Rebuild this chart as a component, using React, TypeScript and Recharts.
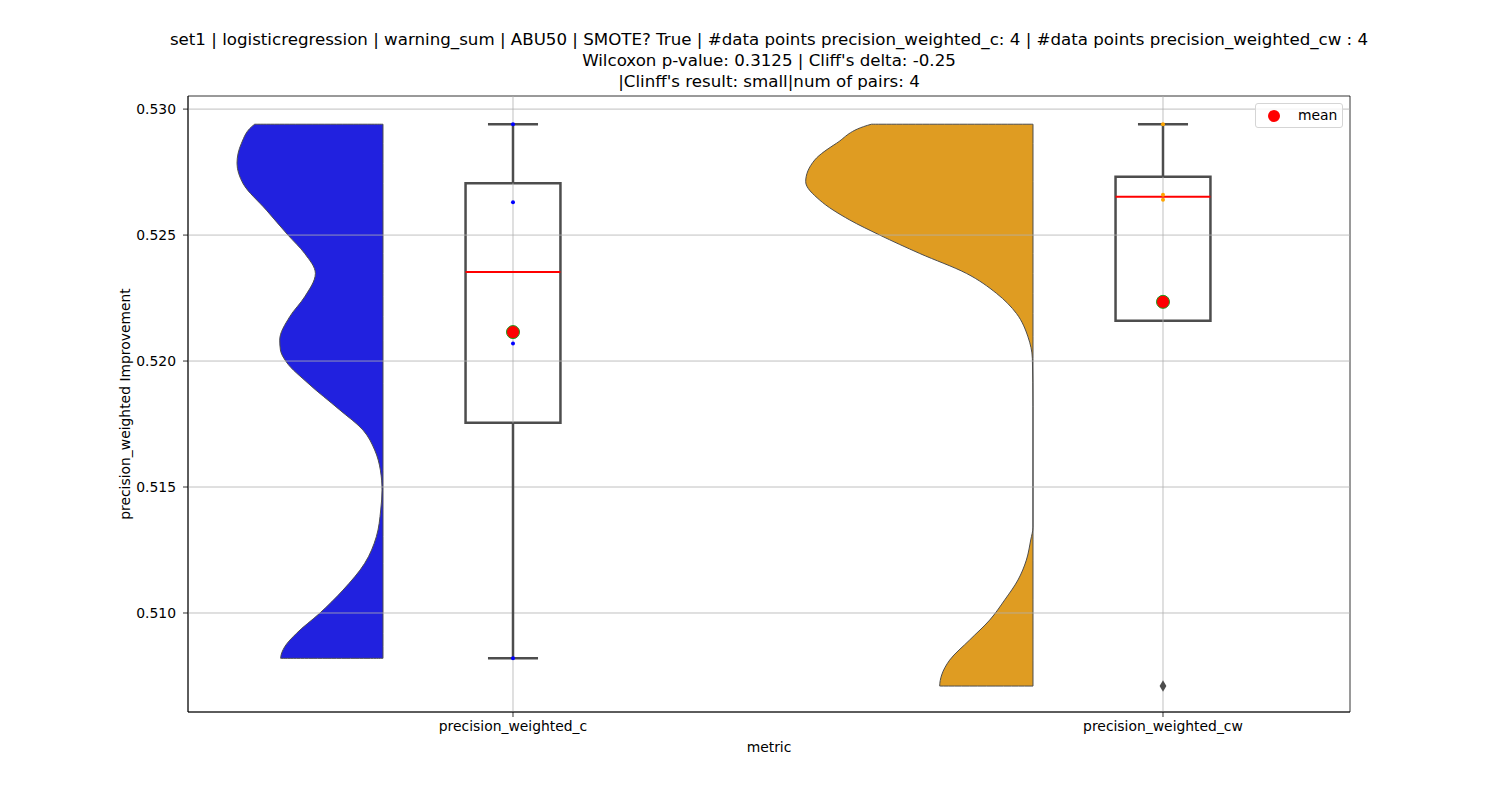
import React from 'react';
import { ComposedChart, Area, Scatter, XAxis, YAxis, ReferenceLine, ReferenceArea, Label } from 'recharts';

const categories = ['precision_weighted_c', 'precision_weighted_cw'];
const categoryPositions = [0, 1];
const yTicks = [0.51, 0.515, 0.52, 0.525, 0.53];
const yDomain = [0.50607, 0.53052];
const xDomain = [-0.5, 1.2877];

const titleLines = [
  'set1 | logisticregression | warning_sum | ABU50 | SMOTE? True | #data points precision_weighted_c: 4 | #data points precision_weighted_cw : 4',
  "Wilcoxon p-value: 0.3125 | Cliff's delta: -0.25",
  "|Clinff's result: small|num of pairs: 4",
];

// raw observations
const pointsC = [0.5294, 0.5263, 0.5207, 0.5082];
const pointsCW = [0.5294, 0.5266, 0.5264, 0.5071];

// box statistics per category
const boxQ1 = [0.51755, 0.5216];
const boxMedian = [0.52353, 0.52652];
const boxQ3 = [0.52706, 0.52731];
const whiskerLow: (number | null)[] = [0.5082, null];
const whiskerHigh = [0.5294, 0.5294];
const means = [0.52115, 0.52235];
const outliersCW = [0.5071];

// half violin density outlines (value, width)
const violinCValues = [0.5294, 0.52864, 0.52785, 0.52705, 0.52599, 0.525, 0.52427, 0.52348, 0.52255, 0.52176, 0.52083, 0.52044, 0.51996, 0.51912, 0.51806, 0.51726, 0.51647, 0.51567, 0.51488, 0.51409, 0.51303, 0.51197, 0.51091, 0.50999, 0.50919, 0.50866, 0.5082];
const violinCWidths = [0.1974, 0.2178, 0.2246, 0.2154, 0.1794, 0.1462, 0.1205, 0.104, 0.1205, 0.1435, 0.1589, 0.1578, 0.1486, 0.1154, 0.0666, 0.0308, 0.0128, 0.004, 0.0015, 0.0035, 0.0102, 0.0282, 0.0615, 0.0974, 0.1332, 0.1512, 0.1574];
const violinCWValues = [0.5294, 0.52864, 0.52798, 0.52712, 0.52639, 0.5256, 0.525, 0.52427, 0.52348, 0.52269, 0.52189, 0.52096, 0.52011, 0.51821, 0.51341, 0.5129, 0.5121, 0.51131, 0.51052, 0.50972, 0.50893, 0.50813, 0.50754, 0.5071];
const violinCWWidths = [0.2486, 0.3025, 0.3358, 0.3497, 0.3282, 0.282, 0.2358, 0.1743, 0.1025, 0.0563, 0.0255, 0.0077, 0.001, 0, 0, 0.0035, 0.0102, 0.0231, 0.0435, 0.0666, 0.0974, 0.1282, 0.1405, 0.1435];
const violinEdge = [-0.2, 0.8];

const BOX_HALF = 0.073;
const CAP_HALF = 0.0385;
const BOX_COLOR = '#4d4d4d';

function violinRows(values: number[], widths: number[], base: number) {
  const rows: { v: number; r: [number, number] }[] = [{ v: values[0], r: [base, base] }];
  values.forEach((v, i) => rows.push({ v, r: [base, base - widths[i]] }));
  rows.push({ v: values[values.length - 1], r: [base, base] });
  return rows;
}

const rowsC = violinRows(violinCValues, violinCWidths, violinEdge[0]);
const rowsCW = violinRows(violinCWValues, violinCWWidths, violinEdge[1]);
const stripC = pointsC.map((v) => ({ x: categoryPositions[0], v }));
const stripCW = pointsCW.map((v) => ({ x: categoryPositions[1], v }));
const meanRows = means.map((v, i) => ({ x: categoryPositions[i], v }));
const outlierRows = outliersCW.map((v) => ({ x: categoryPositions[1], v }));

const font = 'DejaVu Sans, sans-serif';

const Dot = (r: number, fill: string, stroke?: string) => (p: any) =>
  <circle cx={p.cx} cy={p.cy} r={r} fill={fill} stroke={stroke || 'none'} strokeWidth={stroke ? 1 : 0} />;

const Diamond = (p: any) => (
  <polygon
    points={`${p.cx},${p.cy - 5.8} ${p.cx + 3.4},${p.cy} ${p.cx},${p.cy + 5.8} ${p.cx - 3.4},${p.cy}`}
    fill={BOX_COLOR}
  />
);

export default function App() {
  return (
    <div style={{ position: 'absolute', left: 0, top: 0, width: 1500, height: 800, fontFamily: font, background: '#fff' }}>
      <div style={{ position: 'absolute', left: 0, top: 29, width: 1538, textAlign: 'center', fontSize: 16.67, lineHeight: '21px', color: '#000' }}>
        {titleLines.map((t, i) => (
          <div key={i} style={{ whiteSpace: 'nowrap' }}>{t}</div>
        ))}
      </div>
      <ComposedChart width={1500} height={800} layout="vertical" margin={{ top: 96, right: 150, bottom: 18, left: 62 }}>
        <XAxis
          type="number"
          dataKey="x"
          domain={xDomain}
          allowDataOverflow
          ticks={categoryPositions}
          tickFormatter={(i: number) => categories[i] ?? ''}
          tick={{ fill: '#000', fontSize: 13.9 }}
          tickLine={{ stroke: '#000', strokeWidth: 0.8 }}
          axisLine={{ stroke: '#000', strokeWidth: 0.8 }}
          tickSize={5}
          tickMargin={4}
          height={70}
        >
          <Label value="metric" position="center" fill="#000" fontSize={13.9} />
        </XAxis>
        <YAxis
          type="number"
          dataKey="v"
          domain={yDomain}
          allowDataOverflow
          reversed
          ticks={yTicks}
          tickFormatter={(t: number) => t.toFixed(3)}
          tick={{ fill: '#000', fontSize: 13.9 }}
          tickLine={{ stroke: '#000', strokeWidth: 0.8 }}
          axisLine={{ stroke: '#000', strokeWidth: 0.8 }}
          tickSize={5}
          tickMargin={7}
          width={126}
        >
          <Label value="precision_weighted Improvement" position="center" angle={-90} fill="#000" fontSize={13.9} />
        </YAxis>

        <Area data={rowsC} dataKey="r" type="monotone" fill="#2121df" fillOpacity={1} stroke={BOX_COLOR} strokeWidth={1} dot={false} activeDot={false} isAnimationActive={false} />
        <Area data={rowsCW} dataKey="r" type="monotone" fill="#df9c22" fillOpacity={1} stroke={BOX_COLOR} strokeWidth={1} dot={false} activeDot={false} isAnimationActive={false} />

        {categoryPositions.map((c, i) => (
          <ReferenceArea key={`bf${i}`} x1={c - BOX_HALF} x2={c + BOX_HALF} y1={boxQ1[i]} y2={boxQ3[i]} fill="#fff" fillOpacity={1} stroke="none" />
        ))}

        {yTicks.map((t) => (
          <ReferenceLine key={`gy${t}`} y={t} stroke="#b0b0b0" strokeWidth={0.8} />
        ))}
        {categoryPositions.map((c) => (
          <ReferenceLine key={`gx${c}`} x={c} stroke="#b0b0b0" strokeWidth={0.8} />
        ))}

        <Scatter data={stripC} fill="#0000ff" shape={Dot(2, '#0000ff')} isAnimationActive={false} />
        <Scatter data={stripCW} fill="#ffa500" shape={Dot(2, '#ffa500')} isAnimationActive={false} />

        {categoryPositions.map((c, i) => (
          <ReferenceLine key={`wh${i}`} segment={[{ x: c, y: boxQ3[i] }, { x: c, y: whiskerHigh[i] }]} stroke={BOX_COLOR} strokeWidth={2.5} />
        ))}
        {categoryPositions.map((c, i) => (
          <ReferenceLine key={`ch${i}`} segment={[{ x: c - CAP_HALF, y: whiskerHigh[i] }, { x: c + CAP_HALF, y: whiskerHigh[i] }]} stroke={BOX_COLOR} strokeWidth={2.5} />
        ))}
        {categoryPositions.map((c, i) =>
          whiskerLow[i] == null ? null : (
            <ReferenceLine key={`wl${i}`} segment={[{ x: c, y: boxQ1[i] }, { x: c, y: whiskerLow[i] as number }]} stroke={BOX_COLOR} strokeWidth={2.5} />
          )
        )}
        {categoryPositions.map((c, i) =>
          whiskerLow[i] == null ? null : (
            <ReferenceLine key={`cl${i}`} segment={[{ x: c - CAP_HALF, y: whiskerLow[i] as number }, { x: c + CAP_HALF, y: whiskerLow[i] as number }]} stroke={BOX_COLOR} strokeWidth={2.5} />
          )
        )}
        {categoryPositions.map((c, i) => (
          <ReferenceArea key={`bo${i}`} x1={c - BOX_HALF} x2={c + BOX_HALF} y1={boxQ1[i]} y2={boxQ3[i]} fill="none" fillOpacity={0} stroke={BOX_COLOR} strokeWidth={2.5} />
        ))}
        {categoryPositions.map((c, i) => (
          <ReferenceLine key={`md${i}`} segment={[{ x: c - BOX_HALF, y: boxMedian[i] }, { x: c + BOX_HALF, y: boxMedian[i] }]} stroke="#ff0000" strokeWidth={2} />
        ))}

        <Scatter data={outlierRows} fill={BOX_COLOR} shape={Diamond} isAnimationActive={false} />
        <Scatter data={meanRows} fill="#ff0000" shape={Dot(6.5, '#ff0000', '#1f9a1f')} isAnimationActive={false} />

        <ReferenceArea x1={xDomain[0]} x2={xDomain[1]} y1={yDomain[0]} y2={yDomain[1]} fill="none" fillOpacity={0} stroke="#000" strokeWidth={0.8} ifOverflow="visible" />
      </ComposedChart>
      <div style={{ position: 'absolute', left: 1255, top: 103, width: 86, height: 23, border: '1px solid #d5d5d5', borderRadius: 3, background: 'rgba(255,255,255,0.8)', fontSize: 13.9, color: '#000' }}>
        <svg width={20} height={20} style={{ position: 'absolute', left: 8, top: 2 }}>
          <circle cx={10} cy={10} r={6} fill="#ff0000" />
        </svg>
        <span style={{ position: 'absolute', left: 42, top: 3, lineHeight: '16px' }}>mean</span>
      </div>
    </div>
  );
}
